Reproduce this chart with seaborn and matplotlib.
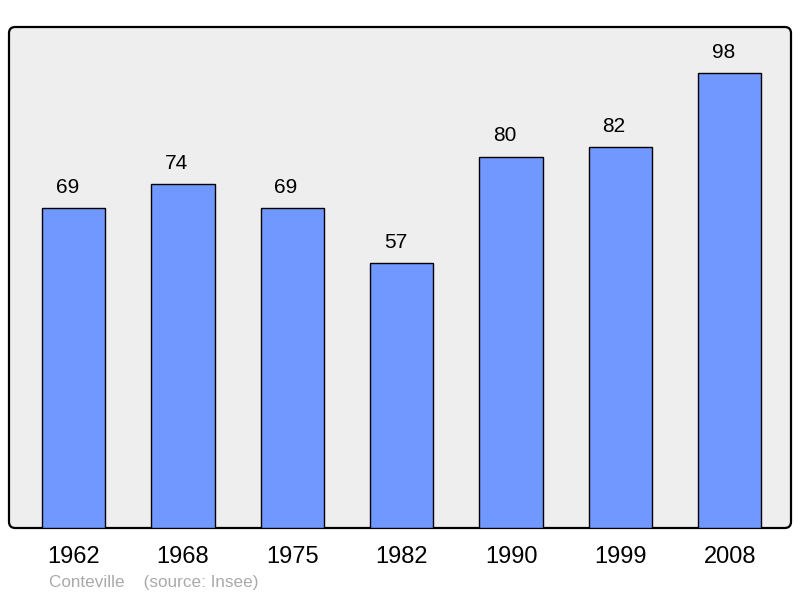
import matplotlib
matplotlib.use("Agg")
import matplotlib.pyplot as plt
import seaborn as sns
import pandas as pd
from matplotlib.patches import FancyBboxPatch

years = ["1962", "1968", "1975", "1982", "1990", "1999", "2008"]
population = [69, 74, 69, 57, 80, 82, 98]

sns.set_theme(style="white")
plt.rcParams['font.family'] = ['Liberation Sans', 'DejaVu Sans']

df = pd.DataFrame({"year": years, "pop": population})

fig = plt.figure(figsize=(8, 5.98), dpi=100)
ax = fig.add_axes([9/800, 70/598, 782/800, 501/598])
ax.set_facecolor("none")
for s in ax.spines.values():
    s.set_visible(False)

frame = FancyBboxPatch((0, 0), 1, 1, boxstyle="round,pad=0,rounding_size=0.008",
                       transform=ax.transAxes, facecolor="#eeeeee", edgecolor="black",
                       linewidth=1.6, zorder=0, clip_on=False,
                       mutation_aspect=782/501)
ax.add_patch(frame)

sns.barplot(data=df, x="year", y="pop", color="#7098ff", saturation=1,
            width=0.58, edgecolor="black", linewidth=1, ax=ax, zorder=2)
ax.set_xlim(-0.59, 6.56)
ax.set_ylim(0, 107.9)
ax.set_xlabel("")
ax.set_ylabel("")
ax.set_yticks([])
ax.tick_params(axis="x", length=0, pad=13, labelsize=17, colors="black")
for c in ax.containers:
    for patch, v in zip(c.patches, population):
        ax.annotate(str(v), (patch.get_x() + patch.get_width() / 2, patch.get_height()),
                    xytext=(-4.5, 8), textcoords="offset points", ha="center", va="bottom",
                    fontsize=15, color="black")

fig.text(49/800, 1 - 583/598, "Conteville    (source: Insee)", fontsize=12.3,
         color="#aaaaaa", va="center", ha="left")

fig.savefig("out.png", dpi=100)
